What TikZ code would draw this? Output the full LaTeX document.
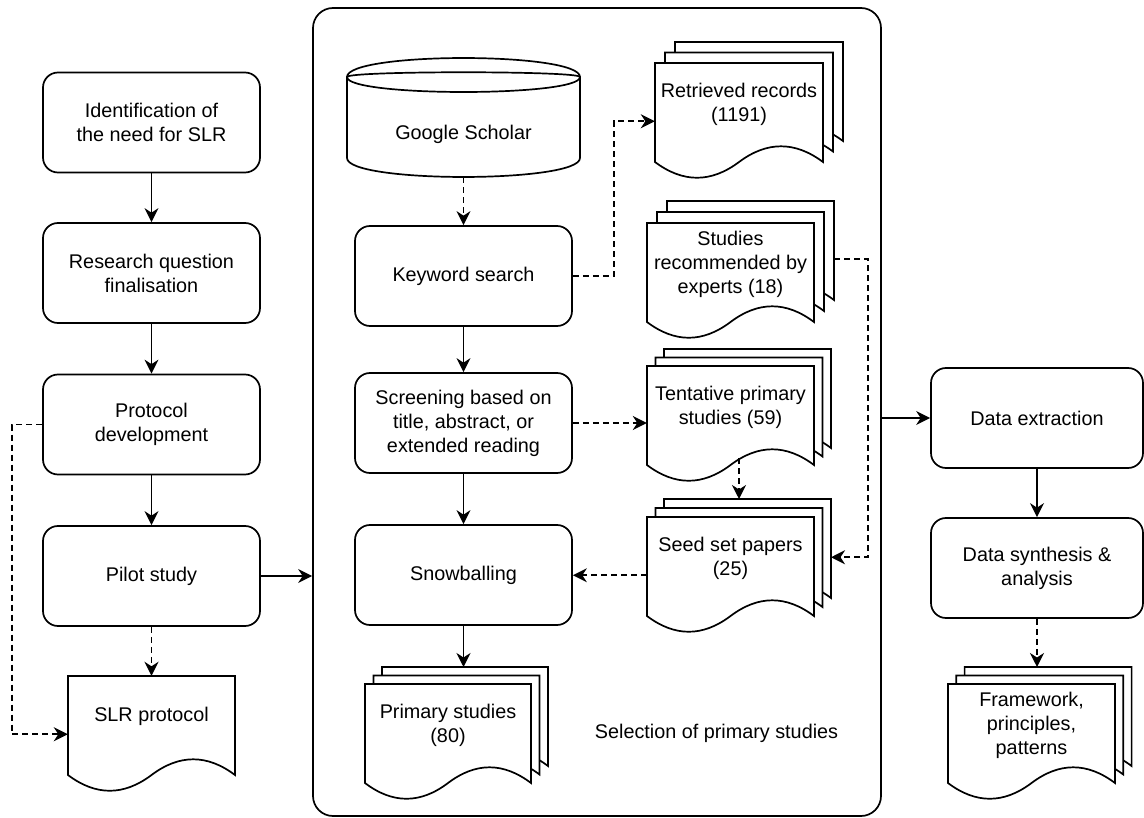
\documentclass[tikz,border=0pt]{standalone}
\usepackage{fontspec}
\setmainfont{Liberation Sans}
\usetikzlibrary{arrows.meta,calc}
\newcommand{\diafont}{\fontsize{19.8}{24}\selectfont}
\tikzset{
  ln/.style={line width=1.7pt},
  proc/.style={draw, ln, rounded corners=15pt, minimum width=217pt, minimum height=100pt, align=center, font=\diafont, inner sep=2pt},
  page/.style={draw, ln, fill=white},
  box0/.style={inner sep=0pt, draw=none},
  txt/.style={align=center, font=\diafont, inner sep=0pt},
  arr/.style={ln, -{Stealth[length=14pt,width=14pt,inset=4.5pt]}},
  dsh/.style={arr, dash pattern=on 6pt off 4pt},
}
% document page: X Y W H (image coordinates, y downwards)
\newcommand{\docpath}[4]{%
  \draw[page] (#1,#2) -- (#1+#3,#2) -- (#1+#3,#2+0.85*#4)
    .. controls (#1+5*#3/6,#2+0.67*#4) and (#1+2*#3/3,#2+0.67*#4) .. (#1+#3/2,#2+0.85*#4)
    .. controls (#1+#3/3,#2+1.03*#4) and (#1+#3/6,#2+1.03*#4) .. (#1,#2+0.85*#4) -- cycle;
}
% multi document: name X Y W dx dy text
\newcommand{\mdoc}[7]{%
  \docpath{#2+2*#5}{#3-2*#6}{#4}{116.5}
  \docpath{#2+#5}{#3-#6}{#4}{116.5}
  \docpath{#2}{#3}{#4}{116.5}
  \node[box0, minimum width=#4pt, minimum height=116.5pt] (#1) at (#2+#4/2,#3+58.25) {};
  \node[txt] (#1-t) at (#2+#4/2,#3+41) {#7};
  \coordinate (#1-top) at (#2+#4/2+#5,#3-2*#6);
  \coordinate (#1-r) at (#2+#4+2*#5,#3+58.25-2*#6);
  \coordinate (#1-wave) at (#2+#4/2+#5,#3+92);
}
\begin{document}
\begin{tikzpicture}[x=1pt,y=-1pt]
\useasboundingbox (0,0) rectangle (1144,818);
\fill[white] (0,0) rectangle (1144,818);

% container
\node[draw, ln, rounded corners=20pt, minimum width=568pt, minimum height=808pt, inner sep=0pt] (sel) at (597,412) {};
\node[txt] (sel-t) at (716.5,733) {Selection of primary studies};

% left column
\node[proc] (id) at (151.5,122.5) {Identification of\\the need for SLR};
\node[proc] (rq) at (151.5,273) {Research question\\finalisation};
\node[proc] (pd) at (151.5,424.5) {Protocol\\development};
\node[proc] (pilot) at (151.5,576) {Pilot study};
\docpath{68}{676}{167}{116.5}
\node[box0, minimum width=167pt, minimum height=116.5pt] (slr) at (151.5,734.25) {};
\node[txt] (slr-t) at (151.5,716) {SLR protocol};

% middle column
\draw[page] (347,77) .. controls (347,70.7) and (580,70.7) .. (580,77)
  -- (580,158) .. controls (580,183.3) and (347,183.3) .. (347,158) -- cycle;
\draw[ln] (347,77) .. controls (347,97) and (580,97) .. (580,77);
\draw[ln] (347,77) .. controls (347,51.7) and (580,51.7) .. (580,77);
\node[box0, minimum width=233pt, minimum height=119pt] (gs) at (463.5,117.5) {};
\node[txt] (gs-t) at (463.5,134) {Google Scholar};
\node[proc] (kw) at (463.5,276) {Keyword search};
\node[proc] (scr) at (463.5,423) {Screening based on\\title, abstract, or\\extended reading};
\node[proc] (snow) at (463.5,575) {Snowballing};
\mdoc{prim}{365}{684}{166}{8.5}{8.5}{Primary studies\\(80)}

% right part of container
\mdoc{ret}{655}{63}{168}{10}{10.5}{Retrieved records\\(1191)}
\mdoc{rec}{647}{223}{167}{10}{11}{Studies\\recommended by\\experts (18)}
\mdoc{tent}{647}{366}{167}{8.5}{8.5}{Tentative primary\\studies (59)}
\mdoc{seed}{647}{517}{167}{8.5}{9}{Seed set papers\\(25)}

% right column
\node[proc, minimum width=212pt] (dext) at (1037,418) {Data extraction};
\node[proc, minimum width=212pt] (syn) at (1037,568) {Data synthesis \&\\analysis};
\mdoc{fw}{948}{684}{167}{8.3}{8.5}{Framework,\\principles,\\patterns}

% connectors
\draw[arr] (id) -- (rq);
\draw[arr] (rq) -- (pd);
\draw[arr] (pd) -- (pilot);
\draw[dsh] (pilot.south) -- (pilot.south |- slr.north);
\draw[dsh] (pd.west) -- ++(-30,0) |- (slr.west);
\draw[arr] (pilot.east) -- (pilot.east -| sel.west);

\draw[dsh] (gs.south) -- (kw.north);
\draw[arr] (kw) -- (scr);
\draw[arr] (scr) -- (snow);
\draw[arr] (snow.south) -- (snow.south |- prim-top);
\draw[dsh] (kw.east) -- ++(41,0) |- (ret.west);
\draw[dsh] (scr.east) -- (scr.east -| tent.west);
\draw[dsh] (tent-wave) -- (seed-top);
\draw[dsh] (rec-r) -- ++(34,0) |- (seed-r);
\draw[dsh] (seed.west) -- (seed.west -| snow.east);

\draw[arr] (sel.east |- dext.west) -- (dext.west);
\draw[arr] (dext) -- (syn);
\draw[dsh] (syn.south) -- (syn.south |- fw-top);
\end{tikzpicture}
\end{document}
